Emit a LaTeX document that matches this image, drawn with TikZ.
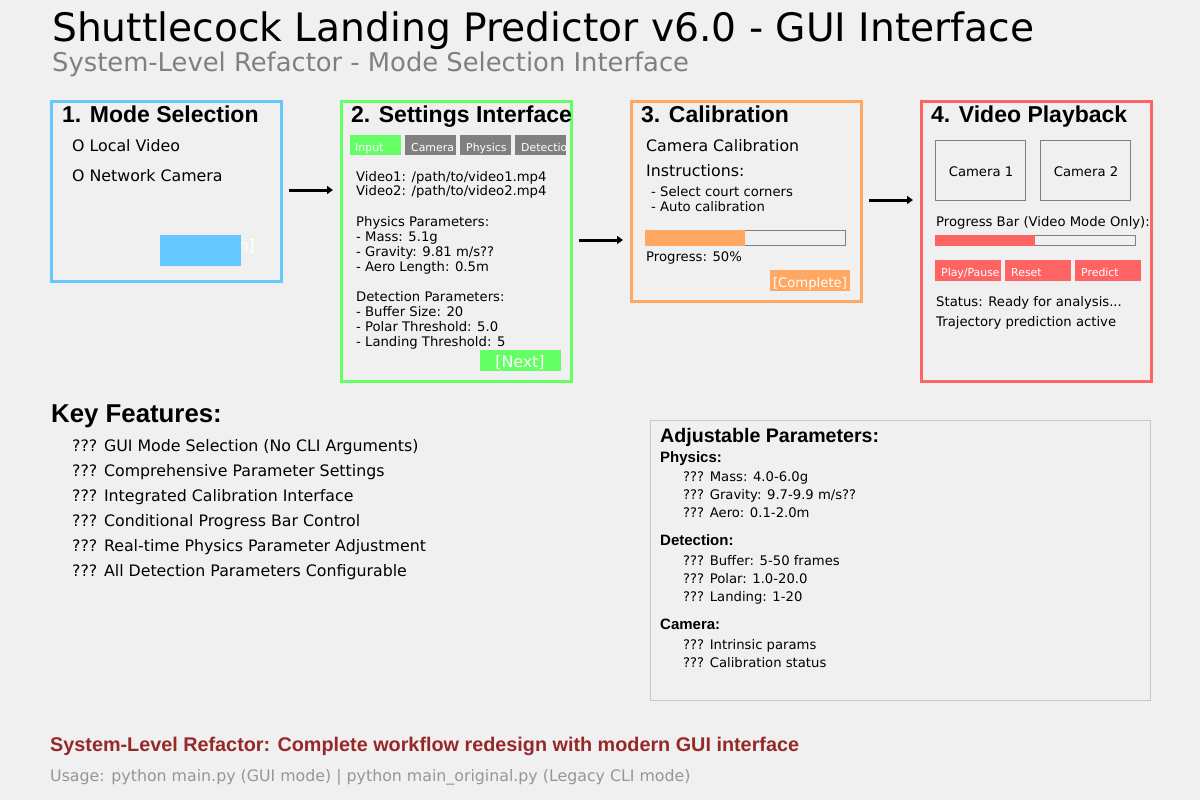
\documentclass[tikz,border=0pt]{standalone}
\usepackage{fontspec}
\setmainfont{DejaVu Sans}
\newfontfamily\headfont{Liberation Sans}
\usepackage{xcolor}
\usepackage{tikz}
\usetikzlibrary{arrows.meta,positioning}

\definecolor{bgcol}{RGB}{240,240,240}
\definecolor{modeblue}{RGB}{100,200,255}
\definecolor{setgreen}{RGB}{100,255,100}
\definecolor{calorange}{RGB}{255,168,100}
\definecolor{playred}{RGB}{255,100,100}
\definecolor{midgray}{RGB}{128,128,128}
\definecolor{boxgray}{RGB}{200,200,200}
\definecolor{notered}{RGB}{150,40,40}
\definecolor{usegray}{RGB}{150,150,150}

\newcommand\fntTitle{\fontsize{39.2}{41}\selectfont}
\newcommand\fntSub{\fontsize{25.8}{27}\selectfont}
\newcommand\fntHead{\headfont\bfseries\fontsize{23}{25}\selectfont}
\newcommand\fntOpt{\fontsize{15.8}{17}\selectfont}
\newcommand\fntSmall{\fontsize{13.2}{15}\selectfont}
\newcommand\fntTab{\fontsize{10.9}{12}\selectfont}
\newcommand\fntKey{\headfont\bfseries\fontsize{25.8}{27}\selectfont}
\newcommand\fntParHead{\headfont\bfseries\fontsize{19.6}{21}\selectfont}
\newcommand\fntParSub{\headfont\bfseries\fontsize{15}{17}\selectfont}
\newcommand\fntNote{\headfont\bfseries\fontsize{19.8}{21}\selectfont}

\begin{document}
\begin{tikzpicture}[x=1pt,y=-1pt,
  panel/.style={draw=#1, line width=3pt, anchor=north west, inner sep=0pt},
  txt/.style={anchor=base west, inner sep=0pt},
  tab/.style={fill=#1, anchor=north west, minimum width=51, minimum height=20, inner sep=0pt},
  btn/.style={fill=#1, anchor=north west, inner sep=0pt},
  btntxt/.style={anchor=base west, inner sep=0pt, text=white},
  flow/.style={line width=3pt, -{Triangle[length=6pt,width=8pt]}}]
\useasboundingbox[fill=bgcol] (0,0) rectangle (1200,800);

% headings
\node[txt, font=\fntTitle] (title) at (52,42) {Shuttlecock Landing Predictor v6.0 - GUI Interface};
\node[txt, font=\fntSub, text=midgray] (subtitle) at (52,71) {System-Level Refactor - Mode Selection Interface};

% 1. mode selection
\node[panel=modeblue, minimum width=230, minimum height=180] (mode) at (50,100) {};
\node[txt, font=\fntHead] (modeHead) at (62,122) {1. Mode Selection};
\node[txt, font=\fntOpt] (optLocal) at (72,151) {O Local Video};
\node[txt, font=\fntOpt] (optNet) at (72,181) {O Network Camera};
\node[btntxt, font=\fntOpt, anchor=base east] (modeBtnTxt) at (255,251) {n]};
\node[btn=modeblue, minimum width=81, minimum height=31] (modeBtn) at (160,235) {};

% 2. settings
\node[panel=setgreen, minimum width=230, minimum height=280] (settings) at (340,100) {};
\node[txt, font=\fntHead] (setHead) at (351,122) {2. Settings Interface};
\node[tab=setgreen] (tInput) at (350,135) {};
\node[tab=midgray] (tCamera) at (405,135) {};
\node[tab=midgray] (tPhysics) at (460,135) {};
\node[tab=midgray] (tDetect) at (515,135) {};
\node[btntxt, font=\fntTab] (tInputTxt) at (355,151) {Input};
\node[btntxt, font=\fntTab] (tCameraTxt) at (411,151) {Camera};
\node[btntxt, font=\fntTab] (tPhysicsTxt) at (466,151) {Physics};
\begin{scope}
\clip (tDetect.south west) rectangle (tDetect.north east);
\node[btntxt, font=\fntTab] (tDetectTxt) at (521,151) {Detection};
\end{scope}
\node[txt, font=\fntSmall] (vid1) at (356,181) {Video1: /path/to/video1.mp4};
\node[txt, font=\fntSmall] (vid2) at (356,195) {Video2: /path/to/video2.mp4};
\node[txt, font=\fntSmall] (physHead) at (356,226) {Physics Parameters:};
\node[txt, font=\fntSmall] (physMass) at (356,241) {- Mass: 5.1g};
\node[txt, font=\fntSmall] (physGrav) at (356,256) {- Gravity: 9.81 m/s??};
\node[txt, font=\fntSmall] (physAero) at (356,271) {- Aero Length: 0.5m};
\node[txt, font=\fntSmall] (detHead) at (356,301) {Detection Parameters:};
\node[txt, font=\fntSmall] (detBuf) at (356,316) {- Buffer Size: 20};
\node[txt, font=\fntSmall] (detPolar) at (356,331) {- Polar Threshold: 5.0};
\node[txt, font=\fntSmall] (detLand) at (356,346) {- Landing Threshold: 5};
\node[btn=setgreen, minimum width=81, minimum height=21] (nextBtn) at (480,350) {};
\node[btntxt, font=\fntOpt, anchor=base] (nextTxt) at (520,367) {[Next]};

% 3. calibration
\node[panel=calorange, minimum width=230, minimum height=200] (calib) at (630,100) {};
\node[txt, font=\fntHead] (calHead) at (641,122) {3. Calibration};
\node[txt, font=\fntOpt] (calTitle) at (646,151) {Camera Calibration};
\node[txt, font=\fntOpt] (calInstr) at (646,176) {Instructions:};
\node[txt, font=\fntSmall] (calStep1) at (651,196) {- Select court corners};
\node[txt, font=\fntSmall] (calStep2) at (651,211) {- Auto calibration};
\node[draw=midgray, line width=1pt, anchor=north west, minimum width=200, minimum height=15, inner sep=0pt] (calBar) at (645,230) {};
\fill[calorange] (calBar.north west) rectangle ([xshift=100pt]calBar.south west);
\node[txt, font=\fntSmall] (calProg) at (646,261) {Progress: 50\%};
\node[btn=calorange, minimum width=80, minimum height=21] (doneBtn) at (770,270) {};
\node[btntxt, font=\fntSmall, anchor=base] (doneTxt) at (810,287) {[Complete]};

% 4. video playback
\node[panel=playred, minimum width=230, minimum height=280] (playback) at (920,100) {};
\node[txt, font=\fntHead] (playHead) at (931,122) {4. Video Playback};
\node[draw=midgray, line width=1pt, anchor=north west, minimum width=90, minimum height=60, inner sep=0pt] (cam1) at (935,140) {};
\node[draw=midgray, line width=1pt, anchor=north west, minimum width=90, minimum height=60, inner sep=0pt] (cam2) at (1040,140) {};
\node[font=\fntSmall, anchor=base, inner sep=0pt] (cam1Txt) at (981,176) {Camera 1};
\node[font=\fntSmall, anchor=base, inner sep=0pt] (cam2Txt) at (1086,176) {Camera 2};
\node[txt, font=\fntSmall] (playBarTxt) at (936,226) {Progress Bar (Video Mode Only):};
\node[draw=midgray, line width=1pt, anchor=north west, minimum width=200, minimum height=10, inner sep=0pt] (playBar) at (935,235) {};
\fill[playred] (playBar.north west) rectangle ([xshift=100pt]playBar.south west);
\node[btn=playred, minimum width=66, minimum height=21] (playBtn) at (935,260) {};
\node[btn=playred, minimum width=66, minimum height=21] (resetBtn) at (1005,260) {};
\node[btn=playred, minimum width=66, minimum height=21] (predBtn) at (1075,260) {};
\begin{scope}
\clip (playBtn.south west) rectangle (playBtn.north east);
\node[btntxt, font=\fntTab] (playTxt) at (941,276) {Play/Pause};
\end{scope}
\node[btntxt, font=\fntTab] (resetTxt) at (1011,276) {Reset};
\node[btntxt, font=\fntTab] (predTxt) at (1081,276) {Predict};
\node[txt, font=\fntSmall] (status) at (936,306) {Status: Ready for analysis...};
\node[txt, font=\fntSmall] (trajStatus) at (936,326) {Trajectory prediction active};

% workflow arrows
\coordinate (f1s) at (289,190);
\coordinate (f1e) at (333,190);
\coordinate (f2s) at (579,240);
\coordinate (f2e) at (623,240);
\coordinate (f3s) at (869,200);
\coordinate (f3e) at (913,200);
\draw[flow] (f1s) -- (f1e);
\draw[flow] (f2s) -- (f2e);
\draw[flow] (f3s) -- (f3e);

% key features
\node[txt, font=\fntKey] (keyHead) at (51,422) {Key Features:};
\node[txt, font=\fntOpt] (key1) at (72,451) {??? GUI Mode Selection (No CLI Arguments)};
\node[txt, font=\fntOpt] (key2) at (72,476) {??? Comprehensive Parameter Settings};
\node[txt, font=\fntOpt] (key3) at (72,501) {??? Integrated Calibration Interface};
\node[txt, font=\fntOpt] (key4) at (72,526) {??? Conditional Progress Bar Control};
\node[txt, font=\fntOpt] (key5) at (72,551) {??? Real-time Physics Parameter Adjustment};
\node[txt, font=\fntOpt] (key6) at (72,576) {??? All Detection Parameters Configurable};

% adjustable parameters
\node[draw=boxgray, line width=1pt, anchor=north west, minimum width=500, minimum height=280, inner sep=0pt] (params) at (650,420) {};
\node[txt, font=\fntParHead] (parHead) at (660,442) {Adjustable Parameters:};
\node[txt, font=\fntParSub] (parPhys) at (660,462) {Physics:};
\node[txt, font=\fntSmall] (parMass) at (683,481) {??? Mass: 4.0-6.0g};
\node[txt, font=\fntSmall] (parGrav) at (683,499) {??? Gravity: 9.7-9.9 m/s??};
\node[txt, font=\fntSmall] (parAero) at (683,517) {??? Aero: 0.1-2.0m};
\node[txt, font=\fntParSub] (parDet) at (660,545) {Detection:};
\node[txt, font=\fntSmall] (parBuf) at (683,565) {??? Buffer: 5-50 frames};
\node[txt, font=\fntSmall] (parPolar) at (683,583) {??? Polar: 1.0-20.0};
\node[txt, font=\fntSmall] (parLand) at (683,601) {??? Landing: 1-20};
\node[txt, font=\fntParSub] (parCam) at (660,629) {Camera:};
\node[txt, font=\fntSmall] (parIntr) at (683,649) {??? Intrinsic params};
\node[txt, font=\fntSmall] (parCal) at (683,667) {??? Calibration status};

% footer
\node[txt, font=\fntNote, text=notered] (note) at (50,751) {System-Level Refactor: Complete workflow redesign with modern GUI interface};
\node[txt, font=\fntOpt, text=usegray] (usage) at (50,781) {Usage: python main.py (GUI mode) | python main\_original.py (Legacy CLI mode)};
\end{tikzpicture}
\end{document}
